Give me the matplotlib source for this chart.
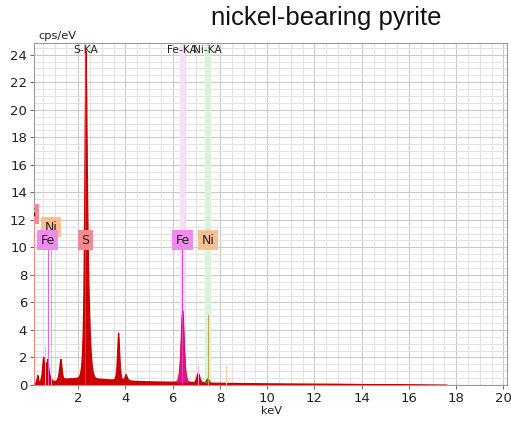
import numpy as np
import matplotlib
matplotlib.use("Agg")
import matplotlib.pyplot as plt
from matplotlib.ticker import MultipleLocator

# EDS spectrum of nickel-bearing pyrite (cps/eV vs keV)
energy_kev = [0.14, 0.18, 0.22, 0.25, 0.27, 0.29, 0.31, 0.34, 0.37, 0.41, 0.45, 0.48,
              0.50, 0.52, 0.54, 0.56, 0.58, 0.61, 0.63, 0.66, 0.68, 0.70, 0.72, 0.74,
              0.77, 0.80, 0.83, 0.86, 0.90, 0.95, 1.00, 1.06, 1.10, 1.15, 1.19, 1.22,
              1.25, 1.28, 1.31, 1.35, 1.40, 1.50, 1.60, 1.70, 1.80, 1.90, 2.00, 2.05,
              2.09, 2.13, 2.16, 2.19, 2.22, 2.25, 2.28, 2.31, 2.34, 2.37, 2.40, 2.43,
              2.46, 2.49, 2.53, 2.57, 2.62, 2.69, 2.80, 3.00, 3.20, 3.40, 3.52, 3.57,
              3.61, 3.64, 3.67, 3.69, 3.71, 3.74, 3.77, 3.81, 3.87, 3.93, 3.97, 4.01,
              4.05, 4.10, 4.20, 4.40, 4.80, 5.20, 5.60, 6.00, 6.15, 6.21, 6.26, 6.29,
              6.32, 6.35, 6.38, 6.40, 6.42, 6.45, 6.48, 6.51, 6.55, 6.60, 6.67, 6.80,
              6.92, 6.97, 7.02, 7.06, 7.10, 7.15, 7.20, 7.28, 7.35, 7.40, 7.44, 7.47,
              7.50, 7.54, 7.60, 7.70, 8.00, 8.50, 9.00, 10.0, 11.0, 12.0, 13.0, 14.0,
              15.0, 16.0, 17.0, 17.6]
cps = [0.05, 0.15, 0.30, 0.55, 0.72, 0.65, 0.35, 0.18, 0.25, 0.45, 0.80, 1.40,
       1.85, 2.05, 1.80, 1.30, 1.15, 1.45, 1.65, 1.35, 1.55, 1.90, 1.60, 1.20,
       0.85, 0.65, 0.55, 0.45, 0.35, 0.30, 0.30, 0.32, 0.40, 0.65, 1.15, 1.65,
       1.90, 1.55, 1.00, 0.60, 0.48, 0.47, 0.48, 0.50, 0.50, 0.52, 0.56, 0.70,
       0.95, 1.45, 2.30, 3.80, 6.50, 12.00, 19.00, 24.30, 21.00, 15.00, 10.50, 7.50,
       5.40, 3.80, 2.40, 1.50, 0.90, 0.58, 0.48, 0.45, 0.42, 0.40, 0.42, 0.60,
       1.10, 2.00, 3.20, 3.80, 3.40, 2.20, 1.20, 0.60, 0.42, 0.45, 0.62, 0.80,
       0.62, 0.42, 0.33, 0.30, 0.28, 0.26, 0.25, 0.24, 0.26, 0.42, 0.85, 1.40,
       2.30, 3.60, 4.90, 5.45, 5.10, 3.90, 2.60, 1.55, 0.75, 0.38, 0.25, 0.22,
       0.24, 0.42, 0.72, 0.90, 0.78, 0.45, 0.26, 0.20, 0.19, 0.30, 0.42, 0.48,
       0.42, 0.28, 0.18, 0.17, 0.16, 0.15, 0.14, 0.12, 0.11, 0.10, 0.09, 0.07,
       0.06, 0.05, 0.03, 0.02]

# element peak overlays
overlay_names = ["Fe", "Ni"]
overlay_lo = [6.15, 7.35]
overlay_hi = [6.67, 7.60]
overlay_base = [0.22, 0.17]
overlay_colors = ["#e0147a", "#6e6a00"]

# line markers (keV, top in cps/eV, colour)
marker_kev = [0.149, 0.615, 0.705, 0.851, 0.868, 7.058, 8.265, 7.478, 6.404, 2.308]
marker_top = [12.05, 2.85, 9.95, 11.05, 2.85, 1.40, 1.40, 5.10, 9.95, 24.3]
marker_colors = ["#f08a8a", "#f4b4f0", "#e860d8", "#f0a860", "#f5c89a",
                 "#f0b8ee", "#f5c8a0", "#c8a050", "#e040c8", "#ee3030"]

# labelled element boxes
box_text = ["S", "Ni", "Fe", "S", "Fe", "Ni"]
box_kev = [0.02, 0.84, 0.71, 2.31, 6.42, 7.50]
box_cps = [12.45, 11.45, 10.50, 10.50, 10.50, 10.50]
box_colors = ["#f28c8c", "#f7c094", "#f08cf0", "#f28c8c", "#f08cf0", "#f7c094"]

# line-family headers along the top
head_text = ["S-KA", "Fe-KA", "Ni-KA"]
head_kev = [2.31, 6.40, 7.47]
band_kev = [2.31, 6.40, 7.50]
band_half = [0.06, 0.11, 0.12]
band_colors = ["#fbd0d0", "#fcdcf8", "#d8f4d8"]

x_ticks = [2, 4, 6, 8, 10, 12, 14, 16, 18, 20]
y_ticks = [0, 2, 4, 6, 8, 10, 12, 14, 16, 18, 20, 22, 24]

W, H = 511, 422
fig = plt.figure(figsize=(W / 100, H / 100), dpi=100)
ax = fig.add_axes([34 / W, 1 - 385 / H, (507 - 34) / W, (385 - 43) / H])

ax.set_xlim(0.13, 20.15)
ax.set_ylim(0, 24.85)

# grid: labelled ticks every 2, unit lines every 1, light lines every 0.5
ax.set_axisbelow(True)
ax.set_xticks(x_ticks)
ax.set_yticks(y_ticks)
ax.xaxis.set_minor_locator(MultipleLocator(0.5))
ax.yaxis.set_minor_locator(MultipleLocator(0.5))
ax.grid(which="major", color="#cacaca", lw=0.8)
ax.grid(which="minor", color="#e3e3e3", lw=0.7)
for v in range(1, 20, 2):
    ax.axvline(v, color="#d2d2d2", lw=0.8, zorder=0.5)
for v in range(1, 25, 2):
    ax.axhline(v, color="#d2d2d2", lw=0.8, zorder=0.5)
ax.tick_params(which="major", length=3, width=0.7, color="#666666", labelsize=9.5,
               labelcolor="#222222", pad=2)
ax.tick_params(which="minor", length=0)

for s in ax.spines.values():
    s.set_color("#9a9a9a")
    s.set_linewidth(0.8)

# background bands of the K-line families
for k, hw, c in zip(band_kev, band_half, band_colors):
    ax.axvspan(k - hw, k + hw, color=c, zorder=0.6, lw=0)

e = np.array(energy_kev)
y = np.array(cps)

ax.fill_between(e, 0, y, color="#cc0000", lw=0.9, edgecolor="#c40000", zorder=2)

for name, lo, hi, base, c in zip(overlay_names, overlay_lo, overlay_hi, overlay_base, overlay_colors):
    m = (e >= lo) & (e <= hi)
    ax.fill_between(e[m], np.minimum(base, y[m]), y[m], color=c, lw=0.5,
                    edgecolor=c, zorder=2.5)

for k, top, c in zip(marker_kev, marker_top, marker_colors):
    ax.plot([k, k], [0, top], color=c, lw=0.7, zorder=3)

for t, k, v, c in zip(box_text, box_kev, box_cps, box_colors):
    ax.text(k, v, t, ha="center", va="center", fontsize=9, color="#222222",
            family="DejaVu Sans", zorder=4, clip_on=True,
            bbox=dict(boxstyle="square,pad=0.28", fc=c, ec="none"))

for t, k in zip(head_text, head_kev):
    ax.text(k, 24.15, t, ha="center", va="baseline", fontsize=7.7, color="#222222",
            family="DejaVu Sans", zorder=4)

fig.text(38 / W, 1 - 39 / H, "cps/eV", ha="left", va="baseline", fontsize=8.2,
         color="#222222", family="DejaVu Sans")
fig.text(271 / W, 1 - 414 / H, "keV", ha="center", va="baseline", fontsize=8.2,
         color="#222222", family="DejaVu Sans")
fig.text(326 / W, 1 - 25 / H, "nickel-bearing pyrite", ha="center", va="baseline",
         fontsize=18.5, color="#111111", family="Liberation Sans")

fig.savefig("out.png", dpi=100)
